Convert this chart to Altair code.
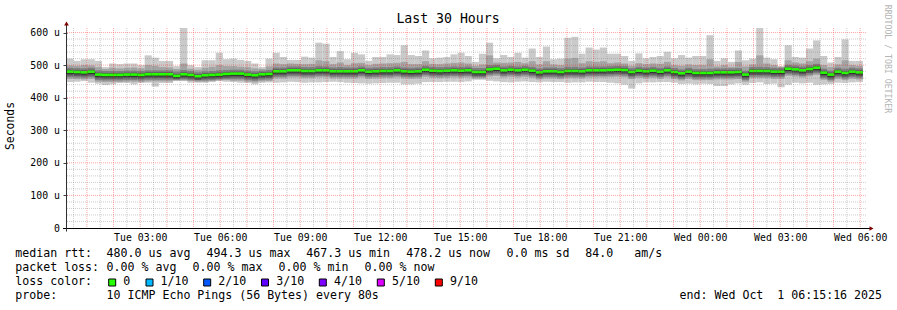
import altair as alt
import pandas as pd

FONT = "DejaVu Sans Mono"
OX, OY = 67, 28  # plot-area origin on the page

# ---- time frame -------------------------------------------------------
BUCKET0 = pd.Timestamp("2025-09-30T00:14:00")
STEP = pd.Timedelta(minutes=16)

# ---- smoke data (microseconds), one value per 16-minute bucket ---------
median = [480, 479, 478, 480, 471, 470, 470, 470, 471, 471, 470, 472, 472, 472, 472, 467, 472, 470, 466, 469, 470, 471, 473,
          474, 474, 471, 469, 472, 473, 481, 481, 484, 484, 482, 482, 484, 484, 481, 481, 481, 481, 484, 480, 481,
          482,
          482, 484, 481, 480, 481, 486, 483, 482, 483, 484, 483, 484, 479, 479, 487, 489, 484, 486, 484, 486, 483, 478, 481,
          481, 479, 482, 482, 481, 484, 484, 484, 485, 486, 485, 479, 483, 481, 483, 480, 484, 479, 475, 480, 476,
          476, 476, 478, 478, 478, 479, 471, 482, 482, 482, 480, 480, 489, 487, 484, 488, 492, 477, 471, 480, 476, 480, 478]

p10 = [520, 513, 518, 518, 513, 494, 505, 503, 505, 505, 500, 530, 523, 513, 513, 497, 615, 500, 494, 515, 515, 538, 518,
       520, 516, 513, 505, 494, 520, 538, 525, 516, 516, 526, 523, 569, 566, 525, 543, 518, 538, 533, 513, 525,
       525,
       533, 531, 561, 531, 528, 545, 521, 523, 525, 533, 538, 528, 510, 535, 569, 521, 531, 525, 538, 523, 551, 525, 557,
       518, 520, 584, 587, 535, 554, 548, 554, 535, 535, 528, 513, 536, 521, 525, 528, 541, 521, 531, 523, 528,
       528, 592, 513, 521, 510, 545, 515, 520, 615, 523, 518, 497, 561, 525, 523, 551, 576, 528, 508, 525, 579, 513, 513]

p9 = [499, 498, 500, 499, 494, 488, 492, 490, 492, 493, 490, 500, 498, 494, 493, 488, 505, 489, 486, 492, 495, 500, 497,
      497, 495, 494, 490, 488, 496, 505, 503, 505, 504, 503, 504, 515, 512, 503, 508, 500, 506, 507, 500, 504,
      505,
      506, 507, 510, 503, 503, 512, 504, 503, 505, 507, 508, 505, 498, 502, 530, 508, 507, 508, 510, 506, 512, 502, 512,
      502, 500, 520, 522, 506, 512, 510, 512, 506, 508, 505, 498, 506, 503, 505, 504, 510, 500, 498, 502, 500,
      500, 518, 496, 500, 495, 510, 496, 502, 530, 505, 500, 494, 515, 508, 505, 512, 520, 500, 494, 502, 515, 500, 498]

p8 = [492, 491, 490, 492, 484, 482, 482, 482, 483, 483, 482, 484, 484, 484, 484, 480, 485, 482, 478, 481, 482, 484, 485,
      486, 486, 483, 481, 483, 485, 493, 493, 496, 496, 494, 494, 497, 496, 493, 494, 493, 493, 496, 492, 493,
      494,
      494, 496, 493, 492, 493, 498, 495, 494, 495, 496, 495, 496, 491, 491, 500, 501, 496, 498, 496, 498, 495, 490, 493,
      493, 491, 495, 495, 493, 496, 496, 496, 497, 498, 497, 491, 495, 493, 495, 492, 496, 491, 487, 492, 488,
      488, 489, 490, 490, 490, 491, 483, 494, 495, 494, 492, 492, 501, 499, 496, 500, 504, 489, 483, 492, 489, 492, 490]

p7 = [486, 485, 484, 486, 477, 476, 476, 476, 477, 477, 476, 478, 478, 478, 478, 473, 478, 476, 472, 475, 476, 477, 479,
      480, 480, 477, 475, 478, 479, 487, 487, 490, 490, 488, 488, 490, 490, 487, 487, 487, 487, 490, 486, 487,
      488,
      488, 490, 487, 486, 487, 492, 489, 488, 489, 490, 489, 490, 485, 485, 493, 495, 490, 492, 490, 492, 489, 484, 487,
      487, 485, 488, 488, 487, 490, 490, 490, 491, 492, 491, 485, 489, 487, 489, 486, 490, 485, 481, 486, 482,
      482, 482, 484, 484, 484, 485, 477, 488, 488, 488, 486, 486, 495, 493, 490, 494, 498, 483, 477, 486, 482, 486, 484]

p6 = [483, 482, 481, 483, 474, 473, 473, 473, 474, 474, 473, 475, 475, 475, 475, 470, 475, 473, 469, 472, 473, 474, 476,
      477, 477, 474, 472, 475, 476, 484, 484, 487, 487, 485, 485, 487, 487, 484, 484, 484, 484, 487, 483, 484,
      485,
      485, 487, 484, 483, 484, 489, 486, 485, 486, 487, 486, 487, 482, 482, 490, 492, 487, 489, 487, 489, 486, 481, 484,
      484, 482, 485, 485, 484, 487, 487, 487, 488, 489, 488, 482, 486, 484, 486, 483, 487, 482, 478, 483, 479,
      479, 479, 481, 481, 481, 482, 474, 485, 485, 485, 483, 483, 492, 490, 487, 491, 495, 480, 474, 483, 479, 483, 481]

p5 = [473, 472, 471, 473, 464, 463, 463, 463, 464, 464, 463, 465, 465, 465, 465, 460, 465, 463, 459, 462, 463, 464, 466,
      467, 467, 464, 462, 465, 466, 474, 474, 477, 477, 475, 475, 477, 477, 474, 474, 474, 474, 477, 473, 474,
      475,
      475, 477, 474, 473, 474, 479, 476, 475, 476, 477, 476, 477, 472, 472, 480, 482, 477, 479, 477, 479, 476, 471, 474,
      474, 472, 475, 475, 474, 477, 477, 477, 478, 479, 478, 472, 476, 474, 476, 473, 477, 472, 468, 473, 469,
      469, 469, 471, 471, 471, 472, 464, 475, 475, 475, 473, 473, 482, 480, 477, 481, 485, 470, 464, 473, 469, 473, 471]

p4 = [468, 467, 466, 468, 459, 458, 458, 458, 459, 459, 458, 460, 460, 460, 460, 457, 460, 458, 454, 457, 458, 459, 461,
      462, 462, 459, 457, 460, 461, 469, 469, 472, 472, 470, 470, 472, 472, 469, 469, 469, 469, 472, 468, 469,
      470,
      470, 472, 469, 468, 469, 474, 471, 470, 471, 472, 471, 472, 467, 467, 475, 477, 472, 474, 472, 474, 471, 466, 469,
      469, 467, 470, 470, 469, 472, 472, 472, 473, 474, 473, 467, 471, 469, 471, 468, 472, 467, 463, 468, 464,
      464, 464, 466, 466, 466, 467, 459, 470, 470, 470, 468, 468, 477, 475, 472, 476, 480, 465, 459, 468, 464, 468, 466]

p3 = [463, 462, 461, 463, 454, 453, 453, 453, 454, 454, 453, 455, 455, 455, 455, 455, 456, 454, 453, 453, 454, 456, 457,
      457, 457, 454, 452, 455, 456, 464, 464, 467, 467, 465, 465, 467, 467, 464, 464, 464, 464, 467, 463, 464,
      465,
      465, 467, 464, 463, 464, 469, 466, 465, 466, 467, 466, 467, 463, 463, 470, 472, 467, 469, 467, 469, 466, 461, 464,
      464, 462, 465, 465, 464, 467, 467, 467, 468, 469, 468, 462, 466, 464, 466, 463, 467, 462, 458, 463, 459,
      459, 459, 461, 461, 461, 462, 454, 465, 465, 465, 463, 463, 472, 470, 467, 471, 475, 460, 454, 463, 459, 463, 461]

p2 = [458, 457, 456, 458, 449, 448, 448, 448, 449, 449, 448, 450, 450, 450, 450, 453, 453, 451, 449, 449, 451, 453, 454,
      452, 452, 449, 447, 450, 451, 459, 459, 462, 462, 460, 460, 462, 462, 459, 459, 459, 459, 462, 458, 459,
      460,
      460, 462, 459, 458, 459, 464, 461, 460, 461, 462, 461, 462, 459, 459, 465, 467, 462, 464, 462, 464, 461, 456, 459,
      459, 457, 460, 460, 459, 462, 462, 462, 463, 464, 463, 457, 461, 459, 461, 458, 462, 457, 453, 458, 454,
      454, 454, 456, 456, 456, 457, 449, 460, 460, 460, 458, 458, 467, 465, 462, 466, 470, 455, 449, 458, 454, 458, 456]

p1 = [448, 449, 451, 446, 443, 439, 441, 445, 445, 441, 445, 446, 434, 445, 445, 451, 451, 446, 446, 446, 448, 451, 449,
      448, 446, 445, 441, 446, 447, 446, 447, 449, 448, 446, 447, 447, 448, 449, 448, 446, 445, 444, 443, 444,
      445,
      446, 446, 441, 441, 443, 448, 448, 448, 449, 449, 448, 450, 455, 455, 452, 450, 448, 447, 449, 450, 448, 447, 449,
      448, 448, 446, 447, 447, 449, 448, 448, 446, 444, 440, 428, 444, 447, 447, 448, 448, 446, 442, 443, 441,
      443, 442, 436, 436, 441, 444, 440, 445, 447, 442, 443, 432, 440, 446, 444, 446, 440, 441, 442, 446, 445, 447, 448]

smoke_shades = ["#cacaca", "#a4a4a4", "#7e7e7e", "#585858", "#323232"]

loss_labels = ["0", "1/10", "2/10", "3/10", "4/10", "5/10", "9/10"]
loss_colors = ["#26ff00", "#00b8ff", "#0059ff", "#5e00ff", "#7e00ff", "#dd00ff", "#ff0000"]

y_ticks = [0, 100, 200, 300, 400, 500, 600]
y_major = [100, 200, 300, 400, 500, 600]
y_minor = [v for v in range(20, 620, 20) if v % 100 != 0]

# ---- tables built from the arrays ---------------------------------------
pings = [p1, p2, p3, p4, p5, p6, p7, p8, p9, p10]
N = len(median)
fmt = "%Y-%m-%dT%H:%M:%S"
t0s = [(BUCKET0 + k * STEP).strftime(fmt) for k in range(N)]
t1s = [(BUCKET0 + (k + 1) * STEP).strftime(fmt) for k in range(N)]

rows = []
for b in range(5):
    for k in range(N):
        rows.append({"t0": t0s[k], "t1": t1s[k], "lo": pings[b][k], "hi": pings[9 - b][k], "band": b})
smoke_df = pd.DataFrame(rows)

med_df = pd.DataFrame({"t0": t0s, "t1": t1s, "med": median})
med_df["g_lo"] = med_df["med"] - 4.0
med_df["g_hi"] = med_df["med"] + 4.0
line_df = pd.DataFrame({"t": t0s + [t1s[-1]], "med": median + [median[-1]]})

grid_start = pd.Timestamp("2025-09-30T00:30:00")
half_hours = [grid_start + pd.Timedelta(minutes=30 * i) for i in range(60)]
x_minor = pd.DataFrame({"t": [t.strftime(fmt) for t in half_hours if t.minute == 30]})
x_major = pd.DataFrame({"t": [t.strftime(fmt) for t in half_hours if t.minute == 0]})

xdom = [alt.DateTime(year=2025, month=9, date=30, hours=0, minutes=15, seconds=16),
        alt.DateTime(year=2025, month=10, date=1, hours=6, minutes=15, seconds=16)]
xscale = alt.Scale(domain=xdom)
yscale = alt.Scale(domain=[0, 614], nice=False, zero=True)

x_label_values = [alt.DateTime(year=2025, month=9, date=30, hours=h) for h in (3, 6, 9, 12, 15, 18, 21)] + \
                 [alt.DateTime(year=2025, month=10, date=1, hours=h) for h in (0, 3, 6)]

XAXIS = alt.Axis(values=x_label_values, format="%a %H:%M", title=None, grid=False,
                 ticks=False, domain=False, labelFont=FONT, labelFontSize=9.85,
                 labelColor="black", labelBaseline="middle", labelPadding=9.5,
                 labelFlush=False, labelOverlap=False)
YAXIS = alt.Axis(values=y_ticks, title=None, grid=False, domain=False,
                 labelExpr="datum.value == 0 ? '0' : datum.value + ' u'",
                 labelFont=FONT, labelFontSize=9.85, labelColor="black",
                 labelOverlap=False, labelFlush=False,
                 tickSize=4, tickColor="#404040", labelPadding=3.5)


def X(field):
    return alt.X(field, scale=xscale, axis=XAXIS)


def Y(field):
    return alt.Y(field, scale=yscale, axis=YAXIS)


# ---- layers -----------------------------------------------------------
smoke = alt.Chart(smoke_df).mark_rect(clip=True).encode(
    x=X("t0:T"), x2="t1:T", y=Y("lo:Q"), y2="hi:Q",
    color=alt.Color("band:O", scale=alt.Scale(domain=[0, 1, 2, 3, 4], range=smoke_shades), legend=None),
)

med_line = alt.Chart(line_df).mark_line(interpolate="step-after", color="#202020", strokeWidth=1, clip=True).encode(
    x=X("t:T"), y=Y("med:Q"))

green = alt.Chart(med_df).mark_rect(color=loss_colors[0], clip=True).encode(
    x=X("t0:T"), x2="t1:T", y=Y("g_lo:Q"), y2="g_hi:Q")

grid_minor_x = alt.Chart(x_minor).mark_rule(color="#808080", opacity=0.4, strokeDash=[1, 1]).encode(
    x=X("t:T"), y=alt.value(0), y2=alt.value(200))
grid_major_x = alt.Chart(x_major).mark_rule(color="#ff0000", opacity=0.35, strokeDash=[1, 1]).encode(
    x=X("t:T"), y=alt.value(0), y2=alt.value(200))
grid_minor_y = alt.Chart(pd.DataFrame({"v": y_minor})).mark_rule(color="#808080", opacity=0.4, strokeDash=[1, 1]).encode(
    y=Y("v:Q"), x=alt.value(0), x2=alt.value(800))
grid_major_y = alt.Chart(pd.DataFrame({"v": y_major})).mark_rule(color="#ff0000", opacity=0.35, strokeDash=[1, 1]).encode(
    y=Y("v:Q"), x=alt.value(0), x2=alt.value(800))

one = alt.Data(values=[{}])
axis_y = alt.Chart(one).mark_rule(color="#303030", strokeWidth=1).encode(
    x=alt.value(-0.5), y=alt.value(203.5), y2=alt.value(-3))
axis_x = alt.Chart(one).mark_rule(color="#000000", strokeWidth=1).encode(
    x=alt.value(-4), x2=alt.value(803), y=alt.value(200.5))
arrow_y = alt.Chart(one).mark_point(shape="triangle-up", filled=True, color="#7f0000", size=22, opacity=1).encode(
    x=alt.value(-0.5), y=alt.value(-4.5))
arrow_x = alt.Chart(one).mark_point(shape="triangle-right", filled=True, color="#7f0000", size=22, opacity=1).encode(
    x=alt.value(804.5), y=alt.value(200.5))


def txt(s, x, y, size=11.6, align="left", angle=0, color="black"):
    return alt.Chart(one).mark_text(text=s, align=align, baseline="middle", font=FONT, fontSize=size,
                                    angle=angle, color=color).encode(x=alt.value(x - OX), y=alt.value(y - OY))


texts = [
    txt("Last 30 Hours", 448, 19, size=13.2, align="center"),
    txt("Seconds", 11, 126, size=11.4, align="center", angle=270),
    txt("RRDTOOL / TOBI OETIKER", 887, 59, size=8.2, align="center", angle=90, color="#b4b4b4"),
    txt("median rtt:", 15.3, 254.3),
    txt("480.0 us avg", 106.6, 254.3),
    txt("494.3 us max", 206.6, 254.3),
    txt("467.3 us min", 306.3, 254.3),
    txt("478.2 us now", 406.3, 254.3),
    txt("0.0 ms sd", 506.6, 254.3),
    txt("84.0", 585.3, 254.3),
    txt("am/s", 634.3, 254.3),
    txt("packet loss:", 15.3, 268.3),
    txt("0.00 % avg", 106.6, 268.3),
    txt("0.00 % max", 192.6, 268.3),
    txt("0.00 % min", 278.6, 268.3),
    txt("0.00 % now", 364.6, 268.3),
    txt("loss color:", 15.3, 282.3),
    txt("probe:", 15.3, 296),
    txt("10 ICMP Echo Pings (56 Bytes) every 80s", 106.6, 296),
    txt("end: Wed Oct \u00a01 06:15:16 2025", 882, 296, align="right"),
]

sq_x = [112.2, 149.5, 207.2, 265.0, 322.8, 380.8, 438.8]
lab_x = [123.3, 160.6, 218.3, 276.3, 334.0, 392.0, 450.0]
for i, (lab, col) in enumerate(zip(loss_labels, loss_colors)):
    texts.append(alt.Chart(one).mark_square(size=49, color=col, opacity=1, stroke="black", strokeWidth=1).encode(
        x=alt.value(sq_x[i] - OX), y=alt.value(282.5 - OY)))
    texts.append(txt(lab, lab_x[i], 282.3))

chart = alt.layer(
    smoke, med_line, green,
    grid_minor_x, grid_minor_y, grid_major_x, grid_major_y,
    axis_x, axis_y, arrow_x, arrow_y,
    *texts
).properties(
    width=800, height=200,
    padding={"left": OX, "top": OY, "right": 30, "bottom": 82},
    autosize=alt.AutoSizeParams(type="none"),
    background="white",
).configure_view(stroke=None)

chart.save("out.html", embed_options={"renderer": "svg", "actions": False})
